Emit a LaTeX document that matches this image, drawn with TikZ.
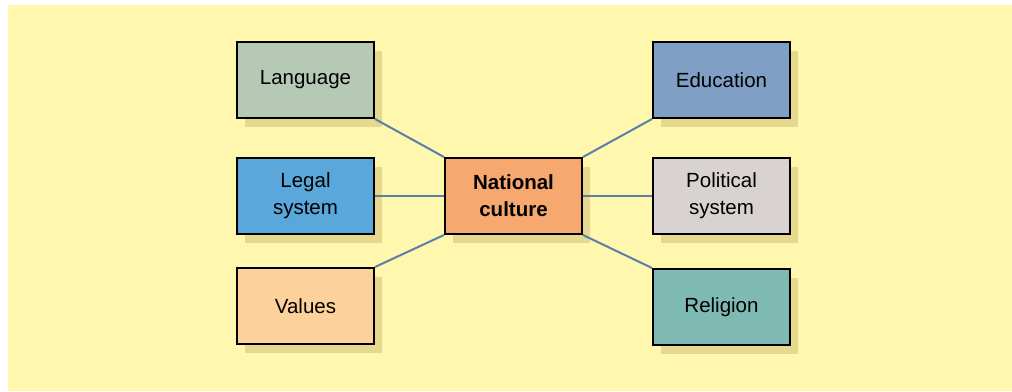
\documentclass[tikz,border=0pt]{standalone}
\usepackage{fontspec}
\setmainfont{Liberation Sans}
\usetikzlibrary{shadows}
\definecolor{bgyellow}{HTML}{FFF7AD}
\definecolor{shade}{HTML}{E6D88E}
\definecolor{linkblue}{HTML}{5A7FA8}
\definecolor{cLang}{HTML}{B5C9B4}
\definecolor{cEdu}{HTML}{7F9FC5}
\definecolor{cLegal}{HTML}{5AA8DB}
\definecolor{cCenter}{HTML}{F6A86E}
\definecolor{cPol}{HTML}{D8D2D0}
\definecolor{cVal}{HTML}{FDD19B}
\definecolor{cRel}{HTML}{7FBAB2}
\begin{document}
\begin{tikzpicture}[x=1pt,y=-1pt,
  box/.style={draw=black,line width=2pt,minimum width=137pt,minimum height=76pt,
    inner sep=0pt,align=center,font=\fontsize{20.5}{27}\selectfont,
    drop shadow={shadow xshift=8pt,shadow yshift=-9pt,fill=shade,opacity=1,draw=none}},
  link/.style={draw=linkblue,line width=2pt}]
\useasboundingbox (0,0) rectangle (1012,391);
\fill[white] (0,0) rectangle (1012,391);
\fill[bgyellow] (8,5) rectangle (1012,391);

% category boxes around the central node
\node[box,fill=cLang]  (lang) at (305.5,80)  {Language};
\node[box,fill=cLegal] (legal) at (305.5,196) {Legal\\system};
\node[box,fill=cVal]   (val) at (305.5,306)  {Values};
\node[box,fill=cEdu]   (edu) at (721.5,80)   {Education};
\node[box,fill=cPol]   (pol) at (721.5,196) {Political\\system};
\node[box,fill=cRel]   (rel) at (721.5,307)  {Religion};
\node[box,fill=cCenter,font=\fontsize{20.5}{27}\selectfont\bfseries] (nc) at (513.5,196) {National\\culture};

% connectors from each box to the central node
\draw[link] (lang.south east) -- (nc.north west);
\draw[link] (legal.east) -- (nc.west);
\draw[link] (val.north east) -- (nc.south west);
\draw[link] (edu.south west) -- (nc.north east);
\draw[link] (pol.west) -- (nc.east);
\draw[link] (rel.north west) -- (nc.south east);
\end{tikzpicture}
\end{document}
